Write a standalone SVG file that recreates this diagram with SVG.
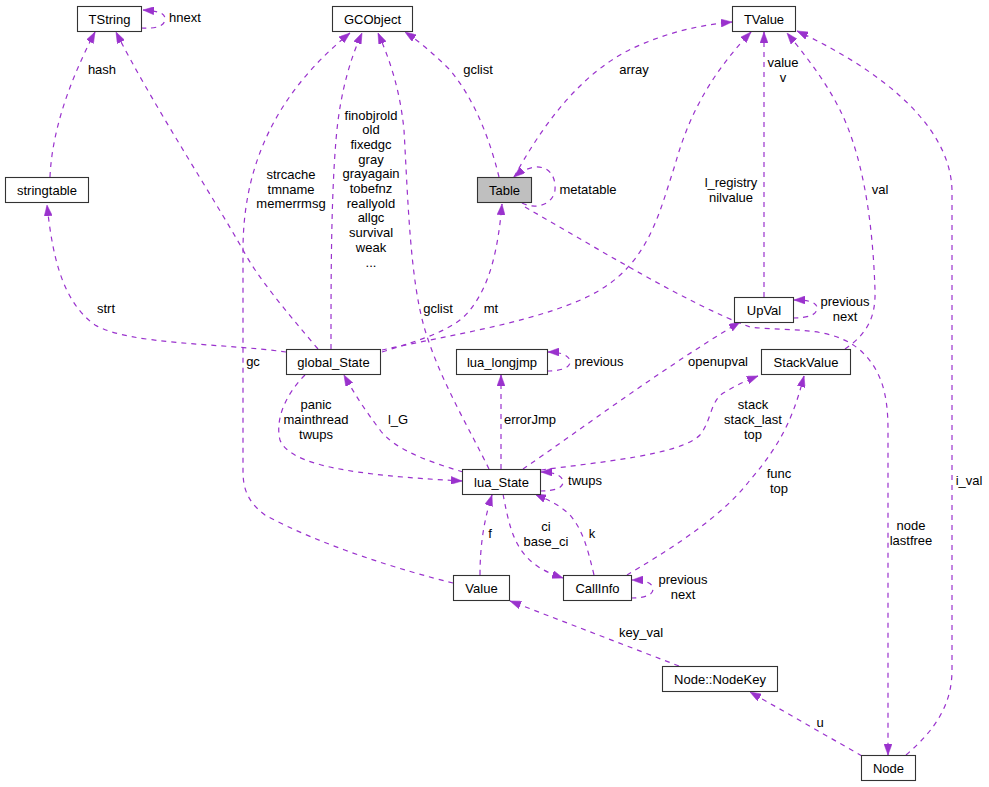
<svg xmlns="http://www.w3.org/2000/svg" width="989" height="787" viewBox="0 0 989 787">
<style>
.box{fill:#fff;stroke:#333;stroke-width:1.1}
.cur{fill:#bfbfbf;stroke:#333;stroke-width:1.1}
.n{font-family:"Liberation Sans",Arial,sans-serif;font-size:13px;fill:#000;text-anchor:middle}
.l{font-family:"Liberation Sans",Arial,sans-serif;font-size:13px;fill:#000;text-anchor:middle}
.e{fill:none;stroke:#9a32cd;stroke-width:1.2;stroke-dasharray:5,5;marker-end:url(#a)}
</style>
<defs>
<marker id="a" viewBox="0 0 11 8" refX="11" refY="4" markerWidth="11" markerHeight="8" markerUnits="userSpaceOnUse" orient="auto">
<path d="M0,0 L11,4 L0,8 Z" fill="#9a32cd" stroke="#9a32cd" stroke-width="0.5"/>
</marker>
</defs>
<rect width="989" height="787" fill="#fff"/>
<g id="edges">
<path class="e" d="M141,28 C156,29 165,26 165,19 C165,13 158,11 143,10"/>
<path class="e" d="M50,177 C52,130 70,80 95,32"/>
<path class="e" d="M318,349 C285,310 258,278 243,250 C215,200 150,100 116,32"/>
<path class="e" d="M286,352 C220,343 130,345 95,325 C60,300 52,250 47,205"/>
<path class="e" d="M331,349 C331,280 331,200 336,140 C340,90 352,55 362,33"/>
<path class="e" d="M489,469 C470,430 440,380 425,330 C410,280 408,200 404,130 C400,90 390,60 378,33"/>
<path class="e" d="M499,177 C490,140 475,100 450,70 C435,55 420,42 405,32"/>
<path class="e" d="M453,583 C400,570 320,545 265,515 C245,500 243,485 243,470 L243,250 C243,160 280,90 350,33"/>
<path class="e" d="M382,352 C420,340 455,330 470,310 C490,285 498,250 502,204"/>
<path class="e" d="M382,350 C450,335 550,320 600,290 C650,260 660,210 675,165 C690,110 715,70 751,32"/>
<path class="e" d="M514,177 C540,130 580,70 640,45 C670,32 700,25 732,22"/>
<path class="e" d="M522,203 C535,210 553,205 555,190 C556,175 548,166 535,167 C528,168 520,172 514,177"/>
<path class="e" d="M764,297 L764,32"/>
<path class="e" d="M845,349 C865,335 876,320 875,290 C873,230 865,160 840,110 C825,80 805,55 787,33"/>
<path class="e" d="M906,755 C935,730 952,705 952,670 L952,190 C950,120 870,65 797,31"/>
<path class="e" d="M793,318 C808,318 817,315 817,308 C817,302 808,300 794,300"/>
<path class="e" d="M525,207 C600,250 690,305 750,327 C790,332 830,325 860,350 C882,370 888,395 888,430 L888,755"/>
<path class="e" d="M523,469 C580,430 660,370 740,322"/>
<path class="e" d="M547,371 C560,371 570,368 570,362 C570,355 560,352 548,352"/>
<path class="e" d="M501,469 L501,375"/>
<path class="e" d="M463,472 C430,462 395,450 380,430 C365,410 355,395 344,375"/>
<path class="e" d="M305,375 C285,395 275,420 280,440 C290,465 350,475 462,481"/>
<path class="e" d="M540,491 C555,491 563,488 563,482 C563,476 555,472 541,472"/>
<path class="e" d="M541,470 C600,462 680,455 700,435 C712,420 710,400 725,392 C735,386 745,381 758,376"/>
<path class="e" d="M627,575 C660,555 720,520 750,480 C785,440 795,410 804,376"/>
<path class="e" d="M631,598 C645,598 653,595 653,589 C653,583 645,580 632,580"/>
<path class="e" d="M503,494 C508,520 512,540 525,555 C535,567 548,573 563,578"/>
<path class="e" d="M594,575 C588,550 583,530 570,515 C560,505 548,500 535,494"/>
<path class="e" d="M480,575 C480,545 484,520 492,495"/>
<path class="e" d="M679,666 L510,601"/>
<path class="e" d="M862,756 L750,692"/>
</g>
<g id="labels">
<text class="l" x="185" y="22">hnext</text>
<text class="l" x="102" y="74">hash</text>
<text class="l" x="291" y="179">strcache</text>
<text class="l" x="291" y="193.5">tmname</text>
<text class="l" x="291" y="208">memerrmsg</text>
<text class="l" x="371" y="119.5">finobjrold</text>
<text class="l" x="371" y="134.2">old</text>
<text class="l" x="371" y="148.9">fixedgc</text>
<text class="l" x="371" y="163.6">gray</text>
<text class="l" x="371" y="178.3">grayagain</text>
<text class="l" x="371" y="193">tobefnz</text>
<text class="l" x="371" y="207.7">reallyold</text>
<text class="l" x="371" y="222.4">allgc</text>
<text class="l" x="371" y="237.1">survival</text>
<text class="l" x="371" y="251.8">weak</text>
<text class="l" x="371" y="266.5">...</text>
<text class="l" x="478" y="74">gclist</text>
<text class="l" x="106" y="313">strt</text>
<text class="l" x="438" y="313">gclist</text>
<text class="l" x="491" y="313">mt</text>
<text class="l" x="253" y="366">gc</text>
<text class="l" x="634" y="74">array</text>
<text class="l" x="588" y="194">metatable</text>
<text class="l" x="731" y="187">l_registry</text>
<text class="l" x="731" y="201.5">nilvalue</text>
<text class="l" x="783" y="67">value</text>
<text class="l" x="783" y="81.5">v</text>
<text class="l" x="880" y="194">val</text>
<text class="l" x="845" y="306">previous</text>
<text class="l" x="845" y="320.5">next</text>
<text class="l" x="599" y="366">previous</text>
<text class="l" x="718" y="366">openupval</text>
<text class="l" x="530" y="424">errorJmp</text>
<text class="l" x="398" y="424">l_G</text>
<text class="l" x="316" y="409">panic</text>
<text class="l" x="316" y="424">mainthread</text>
<text class="l" x="316" y="439">twups</text>
<text class="l" x="585" y="485">twups</text>
<text class="l" x="753" y="409">stack</text>
<text class="l" x="753" y="424">stack_last</text>
<text class="l" x="753" y="439">top</text>
<text class="l" x="779" y="478">func</text>
<text class="l" x="779" y="492.5">top</text>
<text class="l" x="546" y="531">ci</text>
<text class="l" x="546" y="545.5">base_ci</text>
<text class="l" x="592" y="538">k</text>
<text class="l" x="490" y="538">f</text>
<text class="l" x="683" y="584">previous</text>
<text class="l" x="683" y="599">next</text>
<text class="l" x="641" y="637">key_val</text>
<text class="l" x="820" y="727">u</text>
<text class="l" x="911" y="530">node</text>
<text class="l" x="911" y="545">lastfree</text>
<text class="l" x="969" y="485">i_val</text>
</g>
<g id="TString"><rect class="box" x="77.5" y="6.5" width="64" height="25"/><text class="n" x="109.5" y="23.5">TString</text></g>
<g id="GCObject"><rect class="box" x="332.5" y="6.5" width="80" height="25"/><text class="n" x="372.5" y="23.5">GCObject</text></g>
<g id="TValue"><rect class="box" x="732.5" y="6.5" width="63" height="25"/><text class="n" x="764" y="23.5">TValue</text></g>
<g id="stringtable"><rect class="box" x="5.5" y="177.5" width="83" height="25"/><text class="n" x="47" y="194.5">stringtable</text></g>
<g id="Table"><rect class="cur" x="477.5" y="177.5" width="54" height="25"/><text class="n" x="504.5" y="194.5">Table</text></g>
<g id="UpVal"><rect class="box" x="734.5" y="297.5" width="59" height="25"/><text class="n" x="764" y="314.5">UpVal</text></g>
<g id="global_State"><rect class="box" x="286.5" y="349.5" width="94" height="25"/><text class="n" x="333.5" y="366.5">global_State</text></g>
<g id="lua_longjmp"><rect class="box" x="456.5" y="349.5" width="91" height="25"/><text class="n" x="502" y="366.5">lua_longjmp</text></g>
<g id="StackValue"><rect class="box" x="761.5" y="349.5" width="89" height="25"/><text class="n" x="806" y="366.5">StackValue</text></g>
<g id="lua_State"><rect class="box" x="462.5" y="469.5" width="78" height="25"/><text class="n" x="501.5" y="486.5">lua_State</text></g>
<g id="Value"><rect class="box" x="453.5" y="575.5" width="56" height="25"/><text class="n" x="481.5" y="592.5">Value</text></g>
<g id="CallInfo"><rect class="box" x="563.5" y="575.5" width="68" height="25"/><text class="n" x="597.5" y="592.5">CallInfo</text></g>
<g id="NodeKey"><rect class="box" x="662.5" y="666.5" width="115" height="25"/><text class="n" x="720" y="683.5">Node::NodeKey</text></g>
<g id="Node"><rect class="box" x="861.5" y="755.5" width="54" height="25"/><text class="n" x="888.5" y="772.5">Node</text></g>
</svg>
